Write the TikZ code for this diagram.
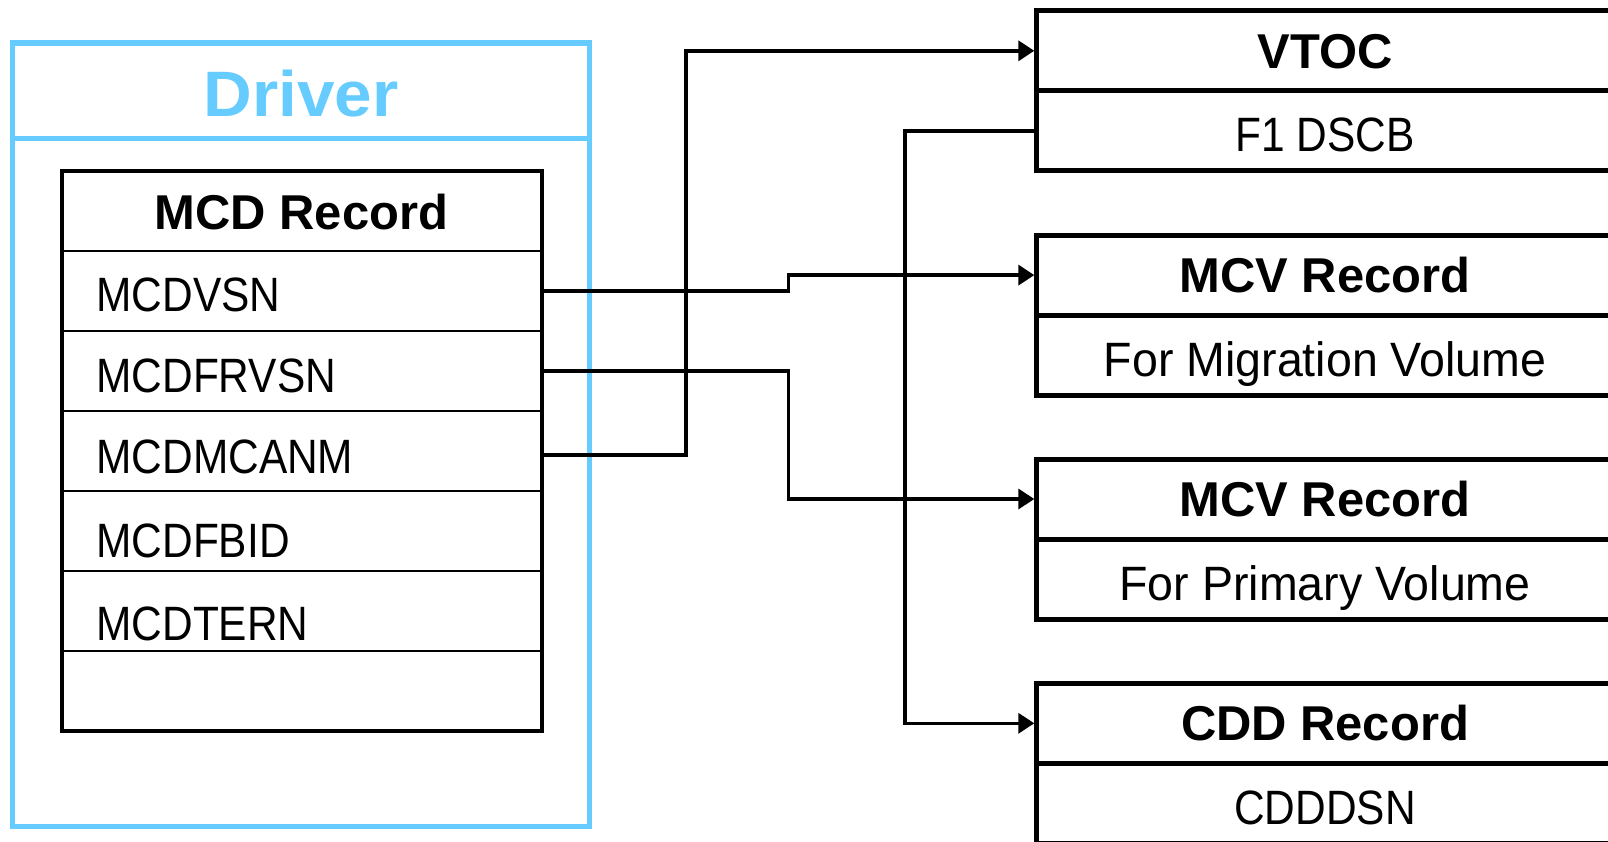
\documentclass[tikz,border=0pt]{standalone}
\usepackage{fontspec}
\setmainfont{Liberation Sans}
\newfontfamily\capsf[FakeStretch=0.88]{Liberation Sans}
\newfontfamily\lowsf[FakeStretch=0.965]{Liberation Sans}
\newfontfamily\drvsf[FakeStretch=1.05]{Liberation Sans}
\usetikzlibrary{arrows.meta}
\definecolor{drvblue}{HTML}{66CCFF}
\begin{document}
\begin{tikzpicture}[x=1pt,y=-1pt,
  every node/.style={inner sep=0pt, outer sep=0pt},
  drvbox/.style={draw=drvblue, line width=5.5pt, anchor=north west, minimum width=577.4pt, minimum height=783.6pt},
  drvtitle/.style={text=drvblue, font=\drvsf\bfseries\fontsize{64.2pt}{70pt}\selectfont, anchor=north west, minimum width=577.4pt, minimum height=95.3pt, text height=52pt, text depth=0pt},
  drvline/.style={draw=drvblue, line width=5.5pt},
  mcdcell/.style={anchor=north west, minimum width=480pt, minimum height=80pt},
  mcdhead/.style={mcdcell, font=\bfseries\fontsize{48.9pt}{55pt}\selectfont, text height=36.2pt, text depth=0pt},
  mcdfield/.style={mcdcell, font=\capsf\fontsize{48.2pt}{55pt}\selectfont, inner xsep=35pt, text width=410pt, align=left, text depth=0pt, text height=#1},
  mcdfield/.default=42pt,
  mcdouter/.style={line width=4pt},
  mcddiv/.style={line width=2.4pt},
  rcell/.style={draw, line width=5pt, anchor=north west, minimum width=576.4pt, minimum height=80pt},
  rhead/.style={rcell, font=\bfseries\fontsize{48.9pt}{55pt}\selectfont, text height=35pt, text depth=0pt},
  rrow/.style={rcell, text height=42pt, text depth=0pt},
  capfont/.style={font=\capsf\fontsize{48.2pt}{55pt}\selectfont},
  lowfont/.style={font=\lowsf\fontsize{48.2pt}{55pt}\selectfont},
  conn/.style={line width=3.5pt, -{Triangle[length=16pt,width=20pt]}, shorten >=2.5pt},
  connplain/.style={line width=3.5pt}
]
\path[use as bounding box] (0,0) rectangle (1608,841);
\begin{scope}
\clip (0,0) rectangle (1608,841);

% Driver container
\node[drvbox] (drv) at (12.3,43) {};
\node[drvtitle] (drvt) at (12.3,43) {Driver};
\draw[drvline] (drvt.south west) -- (drvt.south east);

% MCD Record table
\node[mcdhead] (mcdh) at (61.5,171) {MCD Record};
\node[mcdfield=40.6pt] (r1) at (mcdh.south west) {MCDVSN};
\node[mcdfield=42pt] (r2) at (r1.south west) {MCDFRVSN};
\node[mcdfield=45pt] (r3) at (r2.south west) {MCDMCANM};
\node[mcdfield=52.6pt] (r4) at (r3.south west) {MCDFBID};
\node[mcdfield=58pt] (r5) at (r4.south west) {MCDTERN};
\node[mcdcell] (r6) at (r5.south west) {};
\foreach \r in {r1,r2,r3,r4,r5,r6}
  \draw[mcddiv] (\r.north west) -- (\r.north east);
\draw[mcdouter] (mcdh.north west) rectangle (r6.south east);

% Right-hand records
\node[rhead] (vtoch) at (1036.8,10.8) {VTOC};
\node[rrow, capfont] (vtocr) at (vtoch.south west) {F1 DSCB};
\node[rhead] (mcv1h) at (1036.8,235.1) {MCV Record};
\node[rrow, lowfont] (mcv1r) at (mcv1h.south west) {For Migration Volume};
\node[rhead] (mcv2h) at (1036.8,459) {MCV Record};
\node[rrow, lowfont] (mcv2r) at (mcv2h.south west) {For Primary Volume};
\node[rhead] (cddh) at (1036.8,683.3) {CDD Record};
\node[rrow, capfont] (cddr) at (cddh.south west) {CDDDSN};

% Connectors
\coordinate (b1) at (686,0);
\coordinate (b2) at (788.6,0);
\coordinate (b4) at (905,0);
\coordinate (s3) at ([yshift=-4pt]r3.east);
\draw[conn] (s3) -- (s3 -| b1) |- (vtoch.west);
\draw[conn] (r1.east) -- (r1.east -| b2) |- (mcv1h.west);
\draw[conn] (r2.east) -- (r2.east -| b2) |- (mcv2h.west);
\draw[conn] (vtocr.west) -- (vtocr.west -| b4) |- (cddh.west);
\end{scope}
\end{tikzpicture}
\end{document}
